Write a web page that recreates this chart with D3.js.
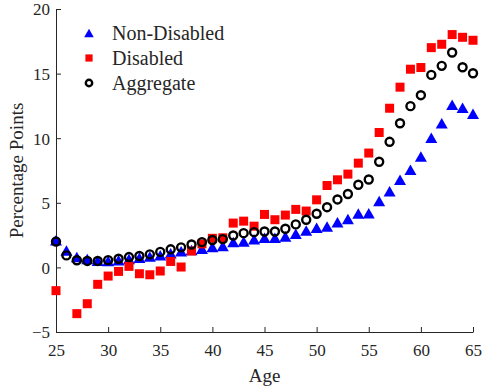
<!DOCTYPE html>
<html>
<head>
<meta charset="utf-8">
<script src="https://cdn.jsdelivr.net/npm/d3@7"></script>
<style>
  html, body { margin: 0; padding: 0; background: #fff; }
  svg { display: block; }
  text { font-family: "Liberation Serif", "Times New Roman", serif; fill: #262626; }
</style>
</head>
<body>
<div id="chart"></div>
<script>
// Ages 25..65
const ages = d3.range(25, 66);

const nonDisabled = [2.1, 1.3, 0.8, 0.65, 0.52, 0.5, 0.55, 0.65, 0.75, 0.85, 0.95, 1.1, 1.25, 1.35, 1.45, 1.57,
  1.65, 1.96, 2.01, 2.17, 2.29, 2.29, 2.4, 2.6, 2.86, 3.07, 3.17, 3.5, 3.75, 4.18, 4.2,
  5.13, 5.9, 6.78, 7.56, 8.58, 10.03, 11.16, 12.58, 12.35, 11.89];

const disabled = [-1.8, null, -3.58, -2.81, -1.31, -0.67, -0.31, 0.08, -0.49, -0.57, -0.28, 0.46, 0.03, 1.27, 1.82, 2.25,
  2.29, 3.43, 3.58, 3.19, 4.1, 3.69, 4.05, 4.49, 4.36, 5.23, 6.34, 6.78, 7.22, 8.07, 8.85,
  10.44, 12.32, 13.95, 15.34, 15.47, 17.01, 17.27, 18.02, 17.81, 17.58];

const aggregate = [2.0, 0.93, 0.55, 0.5, 0.5, 0.56, 0.67, 0.8, 0.88, 1.01, 1.2, 1.4, 1.55, 1.77, 1.96, 2.12,
  2.19, 2.47, 2.65, 2.73, 2.78, 2.78, 2.99, 3.33, 3.69, 4.15, 4.66, 5.26, 5.68, 6.4, 6.8,
  8.18, 9.72, 11.16, 12.48, 13.33, 14.9, 15.6, 16.63, 15.49, 15.03];

const xTicks = [25, 30, 35, 40, 45, 50, 55, 60, 65];
const yTicks = [-5, 0, 5, 10, 15, 20];

const seriesNames = ["Non-Disabled", "Disabled", "Aggregate"];

const W = 482, H = 388;
const margin = { left: 56, right: 9, top: 9, bottom: 56 };

const svg = d3.select("#chart").append("svg")
  .attr("width", W).attr("height", H);

const x = d3.scaleLinear().domain([25, 65]).range([margin.left, W - margin.right]);
const y = d3.scaleLinear().domain([-5, 20]).range([H - margin.bottom, margin.top]);

const axisColor = "#262626";

// x axis (ticks point inward)
const gx = svg.append("g")
  .attr("transform", `translate(0,${y(-5)})`)
  .call(d3.axisBottom(x).tickValues(xTicks).tickSizeInner(-5).tickSizeOuter(0).tickPadding(12));
// y axis
const gy = svg.append("g")
  .attr("transform", `translate(${x(25)},0)`)
  .call(d3.axisLeft(y).tickValues(yTicks).tickSizeInner(-5).tickSizeOuter(0).tickPadding(6));

[gx, gy].forEach(g => {
  g.select(".domain").attr("stroke", axisColor).attr("stroke-width", 1);
  g.selectAll(".tick line").attr("stroke", axisColor).attr("stroke-width", 1);
  g.selectAll(".tick text").style("font-family", '"Liberation Serif", serif')
    .style("font-size", "17px").attr("fill", axisColor);
});
gy.selectAll(".tick text").attr("dy", "0.35em");

// axis titles
svg.append("text")
  .attr("x", x(45)).attr("y", 382)
  .attr("text-anchor", "middle")
  .style("font-size", "19px")
  .text("Age");
svg.append("text")
  .attr("transform", `translate(23,${y(7.5)}) rotate(-90)`)
  .attr("text-anchor", "middle")
  .style("font-size", "19px")
  .text("Percentage Points");

// marker shapes; k scales the glyph (legend entries are drawn smaller)
const triPath = (w, h) => `M0,${-h / 2}L${w / 2},${h / 2}L${-w / 2},${h / 2}Z`;

function drawTriangle(g, cx, cy, k = 1) {
  g.append("path").attr("d", triPath(12 * k, 10.5 * k))
    .attr("transform", `translate(${cx},${cy})`)
    .attr("fill", "#0000ff");
}
function drawSquare(g, cx, cy, k = 1) {
  const s = 9 * k;
  g.append("rect").attr("x", cx - s / 2).attr("y", cy - s / 2)
    .attr("width", s).attr("height", s).attr("fill", "#ff0000");
}
function drawCircle(g, cx, cy, k = 1) {
  g.append("circle").attr("cx", cx).attr("cy", cy).attr("r", 4 * k)
    .attr("fill", "none").attr("stroke", "#000").attr("stroke-width", 2.4);
}

const plot = svg.append("g");
const gTri = plot.append("g"), gSq = plot.append("g"), gCi = plot.append("g");

ages.forEach((a, i) => {
  if (nonDisabled[i] != null) drawTriangle(gTri, x(a), y(nonDisabled[i]));
});
ages.forEach((a, i) => {
  if (disabled[i] != null) drawSquare(gSq, x(a), y(disabled[i]));
});
ages.forEach((a, i) => {
  if (aggregate[i] != null) drawCircle(gCi, x(a), y(aggregate[i]));
});

// legend
const legend = svg.append("g");
const drawers = [drawTriangle, drawSquare, drawCircle];
seriesNames.forEach((name, i) => {
  const ly = 33 + i * 25;
  drawers[i](legend, 89, ly, 0.8);
  legend.append("text")
    .attr("x", 112).attr("y", ly).attr("dy", "0.35em")
    .style("font-size", "20px")
    .text(name);
});
</script>
</body>
</html>
